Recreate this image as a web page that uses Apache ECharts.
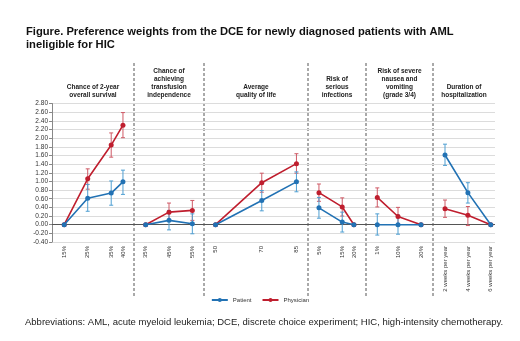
<!DOCTYPE html>
<html><head><meta charset="utf-8">
<script src="https://cdn.jsdelivr.net/npm/echarts@6/dist/echarts.min.js"></script>
<style>html,body{margin:0;padding:0;background:#fff}#c{width:520px;height:341px}</style>
</head><body><div id="c"></div>
<script>
// ---- data ----
const panelTitles = ['Chance of 2-year\noverall survival','Chance of\nachieving\ntransfusion\nindependence','Average\nquality of life','Risk of\nserious\ninfections','Risk of severe\nnausea and\nvomiting\n(grade 3/4)','Duration of\nhospitalization'];
const levelsP1 = [15, 25, 35, 40];
const labelsP1 = ['15%','25%','35%','40%'];
const levelsP2 = [35, 45, 55];
const labelsP2 = ['35%','45%','55%'];
const levelsP3 = [50, 70, 85];
const labelsP3 = ['50','70','85'];
const levelsP4 = [5, 15, 20];
const labelsP4 = ['5%','15%','20%'];
const levelsP5 = [1, 10, 20];
const labelsP5 = ['1%','10%','20%'];
const levelsP6 = [2, 4, 6];
const labelsP6 = ['2 weeks per year','4 weeks per year','6 weeks per year'];

const patientP1 = [0, 0.61, 0.73, 0.99];
const patientLoP1 = [null, 0.31, 0.45, 0.70];
const patientHiP1 = [null, 0.93, 1.01, 1.26];
const physicianP1 = [0, 1.06, 1.84, 2.30];
const physicianLoP1 = [null, 0.82, 1.56, 2.01];
const physicianHiP1 = [null, 1.29, 2.12, 2.59];

const patientP2 = [0, 0.10, 0.02];
const patientLoP2 = [null, -0.12, -0.21];
const patientHiP2 = [null, 0.33, 0.25];
const physicianP2 = [0, 0.29, 0.33];
const physicianLoP2 = [null, 0.08, 0.10];
const physicianHiP2 = [null, 0.50, 0.56];

const patientP3 = [0, 0.56, 0.99];
const patientLoP3 = [null, 0.32, 0.76];
const patientHiP3 = [null, 0.79, 1.22];
const physicianP3 = [0, 0.97, 1.41];
const physicianLoP3 = [null, 0.75, 1.19];
const physicianHiP3 = [null, 1.19, 1.64];

const patientP4 = [0.39, 0.06, 0];
const patientLoP4 = [0.15, -0.17, null];
const patientHiP4 = [0.63, 0.29, null];
const physicianP4 = [0.74, 0.41, 0];
const physicianLoP4 = [0.54, 0.20, null];
const physicianHiP4 = [0.94, 0.62, null];

const patientP5 = [0.00, 0.00, 0];
const patientLoP5 = [-0.24, -0.22, null];
const patientHiP5 = [0.25, 0.22, null];
const physicianP5 = [0.63, 0.19, 0];
const physicianLoP5 = [0.41, -0.01, null];
const physicianHiP5 = [0.85, 0.40, null];

const patientP6 = [1.61, 0.74, 0];
const patientLoP6 = [1.37, 0.50, null];
const patientHiP6 = [1.86, 0.97, null];
const physicianP6 = [0.37, 0.22, 0];
const physicianLoP6 = [0.17, -0.02, null];
const physicianHiP6 = [0.57, 0.42, null];

const yTickMin = -0.4, yTickMax = 2.8, yTickStep = 0.2;

// ---- layout / style ----
const panels = [
  {lv: levelsP1, lb: labelsP1, pa: patientP1, paLo: patientLoP1, paHi: patientHiP1, ph: physicianP1, phLo: physicianLoP1, phHi: physicianHiP1, left: 52, right: 134, min: 9.8, max: 44.7},
  {lv: levelsP2, lb: labelsP2, pa: patientP2, paLo: patientLoP2, paHi: patientHiP2, ph: physicianP2, phLo: physicianLoP2, phHi: physicianHiP2, left: 134, right: 204, min: 30, max: 60},
  {lv: levelsP3, lb: labelsP3, pa: patientP3, paLo: patientLoP3, paHi: patientHiP3, ph: physicianP3, phLo: physicianLoP3, phHi: physicianHiP3, left: 204, right: 308, min: 45, max: 90},
  {lv: levelsP4, lb: labelsP4, pa: patientP4, paLo: patientLoP4, paHi: patientHiP4, ph: physicianP4, phLo: physicianLoP4, phHi: physicianHiP4, left: 308, right: 366, min: 0.3, max: 25.2},
  {lv: levelsP5, lb: labelsP5, pa: patientP5, paLo: patientLoP5, paHi: patientHiP5, ph: physicianP5, phLo: physicianLoP5, phHi: physicianHiP5, left: 366, right: 433, min: -3.9, max: 25.2},
  {lv: levelsP6, lb: labelsP6, pa: patientP6, paLo: patientLoP6, paHi: patientHiP6, ph: physicianP6, phLo: physicianLoP6, phHi: physicianHiP6, left: 433, right: 495, min: 0.95, max: 6.37}
];
const gridTop = 103.5, gridHeight = 138.5;
const blue = '#2272b4', red = '#bf1e2e';
const blueErr = '#4f9fd2', redErr = '#cf5a66';
const FONT = '"Liberation Sans", Arial, sans-serif';

const grids = [], xAxes = [], yAxes = [], series = [], graphics = [];

function errRender(color) {
  return function (params, api) {
    const x = api.value(0);
    const top = api.coord([x, api.value(2)]);
    const bot = api.coord([x, api.value(1)]);
    const h = 2;
    const st = {stroke: color, lineWidth: 1};
    return {type: 'group', children: [
      {type: 'line', shape: {x1: top[0], y1: top[1], x2: bot[0], y2: bot[1]}, style: st},
      {type: 'line', shape: {x1: top[0]-h, y1: top[1], x2: top[0]+h, y2: top[1]}, style: st},
      {type: 'line', shape: {x1: bot[0]-h, y1: bot[1], x2: bot[0]+h, y2: bot[1]}, style: st}
    ]};
  };
}

panels.forEach((p, i) => {
  grids.push({left: p.left, width: p.right - p.left, top: gridTop, height: gridHeight, containLabel: false});
  xAxes.push({
    type: 'value', gridIndex: i, min: p.min, max: p.max,
    axisLine: {show: false}, axisTick: {show: false}, splitLine: {show: false},
    axisLabel: {
      customValues: p.lv, rotate: 90, fontSize: 6, color: '#333', fontFamily: FONT, margin: 4,
      formatter: v => { const k = p.lv.indexOf(v); return k >= 0 ? p.lb[k] : ''; }
    }
  });
  yAxes.push({
    type: 'value', gridIndex: i, min: yTickMin, max: yTickMax, interval: yTickStep,
    axisLine: {show: i === 0, lineStyle: {color: '#888', width: 1}},
    axisTick: {show: i === 0, length: 3, lineStyle: {color: '#888'}},
    axisLabel: {show: i === 0, fontSize: 6.5, color: '#333', fontFamily: FONT, margin: 4,
      formatter: v => v.toFixed(2)},
    splitLine: {show: true, lineStyle: {color: '#dcdcdc', width: 1}}
  });
  const errPa = [], errPh = [];
  p.lv.forEach((x, k) => {
    if (p.paLo[k] !== null) errPa.push([x, p.paLo[k], p.paHi[k]]);
    if (p.phLo[k] !== null) errPh.push([x, p.phLo[k], p.phHi[k]]);
  });
  series.push({type: 'custom', xAxisIndex: i, yAxisIndex: i, data: errPh, encode: {x: 0, y: [1, 2]}, renderItem: errRender(redErr), z: 2, silent: true});
  series.push({type: 'custom', xAxisIndex: i, yAxisIndex: i, data: errPa, encode: {x: 0, y: [1, 2]}, renderItem: errRender(blueErr), z: 2, silent: true});
  series.push({
    name: 'Physician', type: 'line', xAxisIndex: i, yAxisIndex: i,
    data: p.lv.map((x, k) => [x, p.ph[k]]),
    symbol: 'circle', symbolSize: 5, itemStyle: {color: red}, lineStyle: {color: red, width: 1.6}, z: 3,
    markLine: {silent: true, symbol: 'none', label: {show: false}, lineStyle: {color: '#555', width: 1, type: 'solid'}, data: [{yAxis: 0}], z: 1}
  });
  series.push({
    name: 'Patient', type: 'line', xAxisIndex: i, yAxisIndex: i,
    data: p.lv.map((x, k) => [x, p.pa[k]]),
    symbol: 'circle', symbolSize: 5, itemStyle: {color: blue}, lineStyle: {color: blue, width: 1.6}, z: 4
  });
  // panel title
  graphics.push({type: 'text', x: (p.left + p.right) / 2, y: 99, style: {
    text: panelTitles[i], font: 'bold 6.5px ' + FONT, fill: '#222', align: 'center', verticalAlign: 'bottom', lineHeight: 8}});
  // dashed separator
  if (i > 0) graphics.push({type: 'line', shape: {x1: p.left, y1: 63, x2: p.left, y2: 296},
    style: {stroke: '#555', lineWidth: 1, lineDash: [3, 2]}});
});

graphics.push({type: 'text', x: 25, y: 322, style: {
  text: 'Abbreviations: AML, acute myeloid leukemia; DCE, discrete choice experiment; HIC, high-intensity chemotherapy.',
  font: '9.5px ' + FONT, fill: '#222', verticalAlign: 'middle'}});

const chart = echarts.init(document.getElementById('c'), null, {renderer: 'canvas'});
chart.setOption({
  animation: false,
  backgroundColor: '#fff',
  title: {text: 'Figure. Preference weights from the DCE for newly diagnosed patients with AML\nineligible for HIC',
    left: 26, top: 25, padding: 0,
    textStyle: {fontSize: 11.2, fontWeight: 'bold', color: '#111', fontFamily: FONT, lineHeight: 13}},
  legend: {data: ['Patient', 'Physician'], top: 297, left: 'center', padding: 0, itemWidth: 16, itemHeight: 5, itemGap: 10,
    textStyle: {fontSize: 6, color: '#333', fontFamily: FONT}},
  grid: grids, xAxis: xAxes, yAxis: yAxes, series: series, graphic: graphics
});
</script></body></html>
